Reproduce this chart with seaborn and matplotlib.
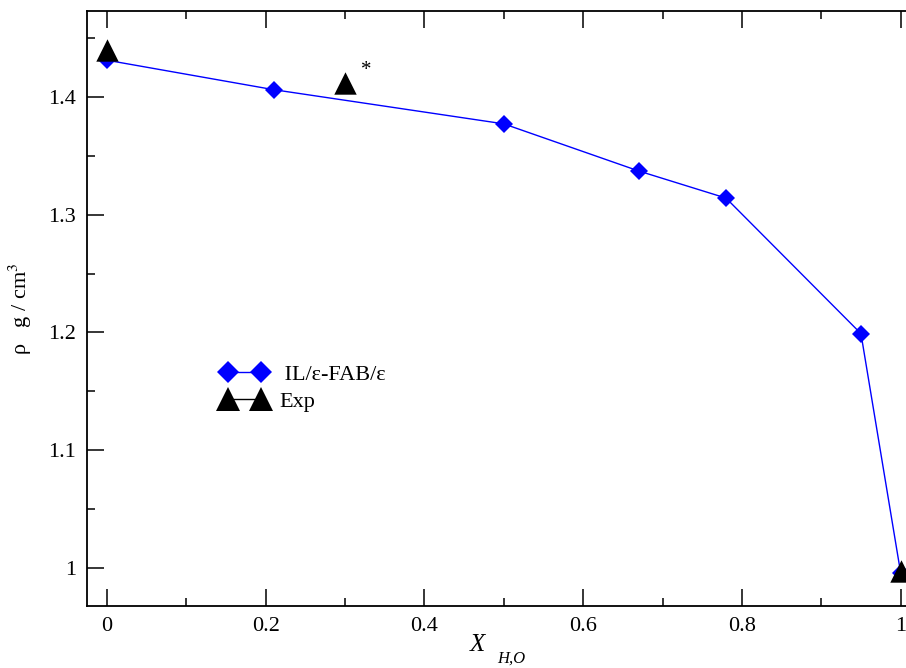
import numpy as np
import pandas as pd
import seaborn as sns
import matplotlib.pyplot as plt
from matplotlib.lines import Line2D

# simulation (IL/e-FAB/e)
x_sim = [0.0, 0.21, 0.5, 0.67, 0.78, 0.95, 1.0]
rho_sim = [1.431, 1.406, 1.377, 1.337, 1.314, 1.199, 0.996]

# experiment
x_exp = [0.0, 0.3, 1.0]
rho_exp = [1.440, 1.412, 0.998]

sim = pd.DataFrame({"x": x_sim, "rho": rho_sim})
exp = pd.DataFrame({"x": x_exp, "rho": rho_exp})

sns.set_style("ticks")
plt.rcParams["font.family"] = ["Liberation Serif", "DejaVu Serif"]
plt.rcParams["mathtext.fontset"] = "stix"
plt.rcParams["text.color"] = "black"
plt.rcParams["axes.labelcolor"] = "black"

fig = plt.figure(figsize=(9.06, 6.68), dpi=100)
ax = fig.add_axes([0.096, 0.093, 0.92, 0.891])

sns.lineplot(data=sim, x="x", y="rho", ax=ax, color="#0000ff", lw=1.0,
             marker="D", markersize=9, markeredgewidth=0, sort=False)
sns.scatterplot(data=exp, x="x", y="rho", ax=ax, color="black", marker="^",
                s=260, linewidth=0, zorder=5)
ax.text(0.32, 1.414, "*", fontsize=15, va="bottom", ha="left")

ax.set_xlim(-0.025, 1.025)
ax.set_ylim(0.968, 1.473)
ax.set_xticks([0, 0.2, 0.4, 0.6, 0.8, 1.0])
ax.set_xticklabels(["0", "0.2", "0.4", "0.6", "0.8", "1"])
ax.set_xticks(np.arange(0.1, 1.0, 0.2), minor=True)
ax.set_yticks([1.0, 1.1, 1.2, 1.3, 1.4])
ax.set_yticklabels(["1", "1.1", "1.2", "1.3", "1.4"])
ax.set_yticks([1.05, 1.15, 1.25, 1.35, 1.45], minor=True)
ax.tick_params(which="both", direction="in", top=True, right=False,
               labelsize=16, width=1.1, pad=8, colors="black")
ax.tick_params(which="major", length=12)
ax.tick_params(which="minor", length=6)
for s in ax.spines.values():
    s.set_linewidth(1.3)
    s.set_color("black")

ax.set_xlabel("")
ax.set_ylabel("\u03c1   g / cm$^3$", fontsize=16, labelpad=10)
fig.text(0.527, 0.025, "X", fontsize=18, style="italic", ha="center")
fig.text(0.549, 0.008, "H,O", fontsize=12, style="italic", ha="left")

handles = [
    Line2D([], [], color="#0000ff", lw=1.0, marker="D", markersize=11,
           markeredgewidth=0),
    Line2D([], [], color="black", lw=1.0, marker="^", markersize=17,
           markeredgewidth=0),
]
ax.legend(handles, [" IL/\u03b5-FAB/\u03b5", "Exp"], loc="upper left",
          bbox_to_anchor=(0.148, 0.425), frameon=False, fontsize=16,
          numpoints=2, handlelength=2.1, handletextpad=0.5,
          labelspacing=0.3, borderpad=0)

fig.savefig("out.png", dpi=100)
